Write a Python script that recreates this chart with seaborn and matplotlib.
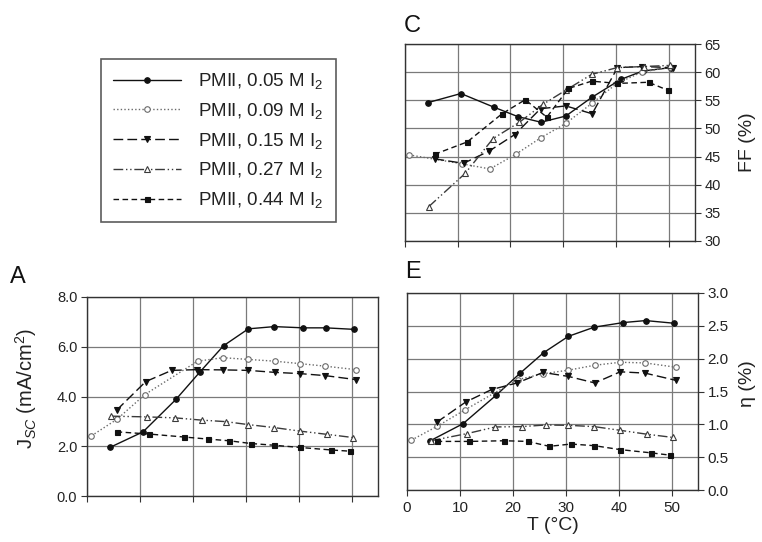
import matplotlib
matplotlib.use("Agg")
import matplotlib.pyplot as plt
import seaborn as sns
from matplotlib.lines import Line2D
from matplotlib.ticker import FormatStrFormatter, MultipleLocator

sns.set_theme(style="white")
plt.rcParams["font.family"] = ["Liberation Sans", "DejaVu Sans"]
plt.rcParams["mathtext.fontset"] = "custom"
plt.rcParams["mathtext.rm"] = "Liberation Sans"
plt.rcParams["mathtext.it"] = "Liberation Sans:italic"
plt.rcParams["mathtext.bf"] = "Liberation Sans:bold"

# ---------------- data ----------------
series_labels = ["PMII, 0.05 M I$_2$", "PMII, 0.09 M I$_2$", "PMII, 0.15 M I$_2$",
                 "PMII, 0.27 M I$_2$", "PMII, 0.44 M I$_2$"]

# temperatures (°C) per series
T_005 = [4.4, 10.6, 16.8, 21.4, 25.8, 30.5, 35.4, 40.9, 45.1, 50.4]
T_009 = [0.85, 5.7, 10.95, 20.9, 25.7, 30.5, 35.5, 40.3, 45.0, 50.8]
T_009_FF = [0.8, 10.9, 16.1, 21.0, 25.7, 30.5, 35.5, 40.2, 44.9, 50.3]
T_015 = [5.6, 11.1, 16.0, 20.8, 25.7, 30.5, 35.5, 40.3, 45.0, 50.8]
T_027 = [4.5, 11.4, 16.7, 21.7, 26.2, 30.5, 35.4, 40.2, 45.3, 50.3]
T_044 = [5.6, 11.8, 18.4, 22.8, 26.9, 31.0, 35.4, 40.3, 46.2, 49.8]

# Panel A: Jsc (mA/cm2)
JSC_005 = [1.96, 2.58, 3.88, 5.0, 6.04, 6.72, 6.81, 6.76, 6.76, 6.70]
JSC_009 = [2.42, 3.09, 4.08, 5.42, 5.56, 5.49, 5.42, 5.32, 5.22, 5.08]
JSC_015 = [3.45, 4.6, 5.05, 5.08, 5.07, 5.05, 4.97, 4.92, 4.84, 4.68]
JSC_027 = [3.21, 3.18, 3.14, 3.05, 2.99, 2.87, 2.75, 2.61, 2.48, 2.35]
JSC_044 = [2.58, 2.49, 2.37, 2.29, 2.22, 2.11, 2.04, 1.95, 1.85, 1.80]

# Panel C: FF (%)
FF_005 = [54.6, 56.2, 53.8, 52.1, 51.1, 52.2, 55.5, 58.7, 60.2, 60.8]
FF_009 = [45.3, 43.7, 42.8, 45.4, 48.3, 50.9, 54.5, 58.0, 60.0, 60.9]
FF_015 = [44.6, 43.8, 46.0, 48.9, 53.5, 54.0, 52.6, 60.8, 61.0, 60.8]
FF_027 = [36.1, 42.0, 48.2, 51.1, 54.3, 56.8, 59.6, 60.8, 61.0, 61.2]
FF_044 = [45.4, 47.6, 52.6, 55.1, 52.0, 57.1, 58.4, 58.0, 58.2, 56.8]

# Panel E: efficiency (%)
ETA_005 = [0.75, 1.01, 1.44, 1.78, 2.09, 2.34, 2.48, 2.55, 2.58, 2.54]
ETA_009 = [0.76, 0.97, 1.22, 1.68, 1.77, 1.825, 1.90, 1.945, 1.935, 1.87]
ETA_015 = [1.03, 1.34, 1.53, 1.63, 1.79, 1.73, 1.63, 1.80, 1.78, 1.67]
ETA_027 = [0.75, 0.86, 0.96, 0.965, 0.99, 0.985, 0.965, 0.91, 0.85, 0.80]
ETA_044 = [0.74, 0.74, 0.75, 0.74, 0.665, 0.70, 0.675, 0.615, 0.565, 0.53]

x_ticks = [0, 10, 20, 30, 40, 50]

# ---------------- styles ----------------
styles = [
    dict(color="#111111", linestyle="-", marker="o", markerfacecolor="#111111", markersize=4),
    dict(color="#6a6a6a", linestyle=(0, (1, 1.6)), marker="o", markerfacecolor="white", markersize=4),
    dict(color="#111111", linestyle=(0, (7, 3)), marker="v", markerfacecolor="#111111", markersize=4.5),
    dict(color="#3a3a3a", linestyle=(0, (7, 2, 1, 2, 1, 2)), marker="^", markerfacecolor="white", markersize=4),
    dict(color="#111111", linestyle=(0, (4, 2.5)), marker="s", markerfacecolor="#111111", markersize=3.6),
]

W, H = 762, 542
fig = plt.figure(figsize=(W / 100, H / 100), dpi=100)
fig.patch.set_facecolor("white")


def px_axes(x0, y0, x1, y1):
    return fig.add_axes([x0 / W, 1 - y1 / H, (x1 - x0) / W, (y1 - y0) / H])


def draw(ax, xs, ys):
    for x, y, st in zip(xs, ys, styles):
        sns.lineplot(x=x, y=y, ax=ax, color=st["color"], linestyle=st["linestyle"],
                     marker=st["marker"], markerfacecolor=st["markerfacecolor"],
                     markeredgecolor=st["color"], markeredgewidth=0.8,
                     markersize=st["markersize"], linewidth=1.0, errorbar=None,
                     sort=False, legend=False)


def style_axes(ax, ylim, ystep, fmt, right):
    ax.set_xlim(0, 55)
    ax.set_ylim(*ylim)
    ax.set_xticks(x_ticks)
    ax.yaxis.set_major_locator(MultipleLocator(ystep))
    if fmt:
        ax.yaxis.set_major_formatter(FormatStrFormatter(fmt))
    ax.grid(True, color="#7a7a7a", linewidth=0.9)
    ax.set_axisbelow(True)
    for s in ax.spines.values():
        s.set_color("#333333")
        s.set_linewidth(1.0)
    ax.set_xlabel("")
    ax.set_ylabel("")
    ax.tick_params(axis="both", direction="out", length=4, width=0.8, color="#333333",
                   labelsize=10.5, labelcolor="#222222", pad=3)
    if right:
        ax.tick_params(axis="y", left=False, right=True, labelleft=False, labelright=True)
    else:
        ax.tick_params(axis="y", left=True, right=False, labelleft=True, labelright=False)
    ax.tick_params(axis="x", bottom=True)


# Panel A
axA = px_axes(87, 297, 378, 496)
draw(axA, [T_005, T_009, T_015, T_027, T_044], [JSC_005, JSC_009, JSC_015, JSC_027, JSC_044])
style_axes(axA, (0, 8), 2, "%.1f", right=False)
axA.tick_params(axis="x", labelbottom=False)

# Panel C
axC = px_axes(405, 44, 695, 241)
draw(axC, [T_005, T_009_FF, T_015, T_027, T_044], [FF_005, FF_009, FF_015, FF_027, FF_044])
style_axes(axC, (30, 65), 5, None, right=True)
axC.tick_params(axis="x", labelbottom=False)

# Panel E
axE = px_axes(407, 293, 698, 490)
draw(axE, [T_005, T_009, T_015, T_027, T_044], [ETA_005, ETA_009, ETA_015, ETA_027, ETA_044])
style_axes(axE, (0, 3), 0.5, "%.1f", right=True)
axE.tick_params(axis="x", labelbottom=True, pad=4)
axE.tick_params(labelsize=11)

# labels
fig.text(26 / W, 1 - 388 / H, "J$_{SC}$ (mA/cm$^2$)", rotation=90, ha="center", va="center",
         fontsize=14.5, color="#222222")
fig.text(748 / W, 1 - 142 / H, "FF (%)", rotation=90, ha="center", va="center",
         fontsize=14, color="#222222")
fig.text(748 / W, 1 - 384 / H, "η (%)", rotation=90, ha="center", va="center",
         fontsize=14, color="#222222")
fig.text(553 / W, 1 - 526 / H, "T (°C)", ha="center", va="center", fontsize=14, color="#222222")

# panel letters
fig.text(404 / W, 1 - 26 / H, "C", ha="left", va="center", fontsize=17, color="#111111")
fig.text(10 / W, 1 - 277 / H, "A", ha="left", va="center", fontsize=17, color="#111111")
fig.text(405 / W, 1 - 272 / H, "E", ha="left", va="center", fontsize=17, color="#111111")

# legend
handles = [Line2D([], [], color=st["color"], linestyle=st["linestyle"], marker=st["marker"],
                  markerfacecolor=st["markerfacecolor"], markeredgecolor=st["color"],
                  markeredgewidth=0.8, markersize=st["markersize"], linewidth=1.0)
           for st in styles]
leg = fig.legend(handles, series_labels, loc="upper left",
                 bbox_to_anchor=(101 / W, 1 - 59 / H), bbox_transform=fig.transFigure,
                 frameon=True, fancybox=False, edgecolor="#333333", fontsize=13.5,
                 handlelength=3.6, handletextpad=0.95, labelspacing=0.52, borderpad=0.65,
                 numpoints=1, borderaxespad=0)
leg.get_frame().set_linewidth(1.2)
for t in leg.get_texts():
    t.set_color("#222222")

fig.savefig("out.png", dpi=100, facecolor="white")
